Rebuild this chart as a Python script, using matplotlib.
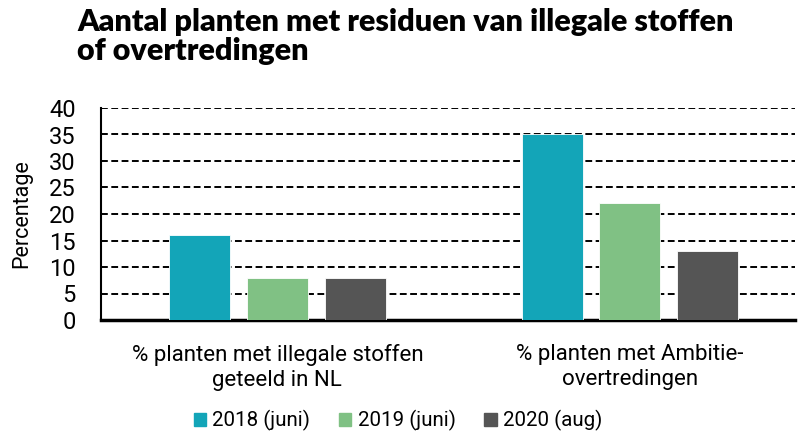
import matplotlib
matplotlib.use("Agg")
import matplotlib.pyplot as plt
from matplotlib.patches import Patch
import numpy as np

categories = ["% planten met illegale stoffen\ngeteeld in NL", "% planten met Ambitie-\novertredingen"]
series_names = ["2018 (juni)", "2019 (juni)", "2020 (aug)"]
values_2018 = [16, 35]
values_2019 = [8, 22]
values_2020 = [8, 13]
colors = ["#13a5b8", "#80c184", "#555555"]
yticks = [0, 5, 10, 15, 20, 25, 30, 35, 40]

plt.rcParams['font.family'] = ['Roboto', 'DejaVu Sans']

fig = plt.figure(figsize=(7.98, 4.34), dpi=100)
ax = fig.add_axes([101/798, 1 - 320/434, 694/798, 212/434])

x = np.arange(len(categories))
w = 0.173
off = 0.221
for i, (vals, c) in enumerate(zip([values_2018, values_2019, values_2020], colors)):
    ax.bar(x + (i - 1) * off, vals, width=w, color=c, edgecolor='white', linewidth=0.6, zorder=3)

ax.set_ylim(0, 40)
ax.set_xlim(-0.5, 1.468)
ax.set_yticks(yticks)
ax.yaxis.grid(True, linestyle=(0, (3.5, 1.8)), color='black', linewidth=1.4, zorder=0)
ax.set_axisbelow(True)
for s in ['top', 'right']:
    ax.spines[s].set_visible(False)
ax.spines['left'].set_linewidth(1.5)
ax.spines['bottom'].set_linewidth(2.5)
ax.tick_params(axis='y', length=0, labelsize=17, pad=18)
ax.tick_params(axis='x', length=0, labelsize=16, pad=17)
ax.set_xticks(x)
ax.set_xticklabels(categories, linespacing=1.3)
ax.set_ylabel("Percentage", fontsize=15.5, labelpad=12)

fig.text(77/798, 1 - 8/434, "Aantal planten met residuen van illegale stoffen\nof overtredingen",
         fontsize=22, fontweight='heavy', family=['Lato', 'DejaVu Sans'], va='top', ha='left', linespacing=1.05)

handles = [Patch(color=c) for c in colors]
fig.legend(handles, series_names, loc='lower center', bbox_to_anchor=(398/798, -0.036), ncol=3,
           frameon=False, fontsize=14.8, handlelength=0.6, handleheight=0.6, handletextpad=0.3, columnspacing=1.4)

fig.savefig("out.png", dpi=100)
